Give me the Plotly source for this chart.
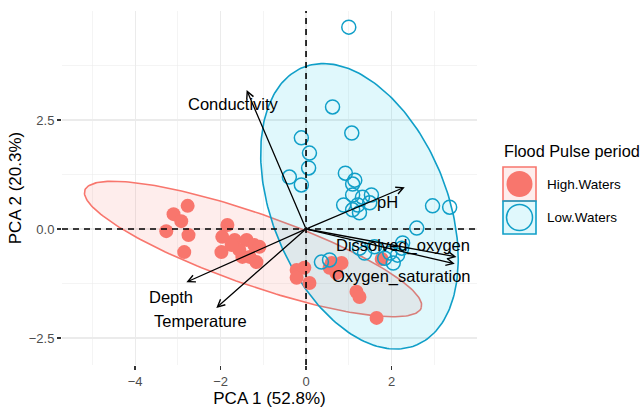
import numpy as np
import plotly.graph_objects as go

# ---------------- data ----------------
groups = ["High.Waters", "Low.Waters"]

high_x = [-2.77, -3.10, -2.92, -3.27, -2.75, -2.85, -1.84, -1.96, -1.98, -1.67,
          -1.49, -1.39, -1.21, -1.32, -1.09, -1.16, -1.56, -1.74, -0.22, -0.04,
          -0.22, 0.08, 0.55, 0.83, 0.71, 1.18, 1.25, 1.77, 1.65, 0.60]
high_y = [0.53, 0.34, 0.18, -0.05, -0.14, -0.53, 0.09, -0.18, -0.53, -0.25,
          -0.64, -0.25, -0.37, -0.64, -0.41, -0.76, -0.48, -0.37, -0.94, -0.89,
          -1.12, -1.24, -0.89, -0.78, -1.01, -1.44, -1.56, -0.69, -2.04, -0.78]

low_x = [1.00, 0.62, 1.07, -0.11, 0.08, 0.06, -0.39, -0.11, 0.92, 1.14, 1.09,
         1.09, 1.32, 1.53, 1.21, 1.09, 1.25, 1.49, 0.88, 2.96, 3.36, 2.59, 1.96,
         2.14, 2.24, 1.84, 0.55, 0.36, 1.60, 1.37, 1.25, 2.04, 2.26]
low_y = [4.63, 2.80, 2.20, 2.09, 1.74, 1.40, 1.19, 1.01, 1.28, 1.12, 1.03,
         0.78, 0.73, 0.78, 0.55, 0.44, 0.37, 0.60, 0.55, 0.53, 0.50, 0.02, -0.55,
         -0.60, -0.44, -0.67, -0.71, -0.76, -0.41, -0.55, -0.44, -0.78, -0.32]

# confidence ellipses: centre, semi-axes, rotation (degrees)
ell_cx = [-1.24, 1.25]
ell_cy = [-0.46, 0.52]
ell_a = [4.16, 3.45]
ell_b = [0.82, 2.04]
ell_angle = [-18.9, -67.0]

# variable loadings (arrow tips) and label positions
var_names = ["Conductivity", "pH", "Dissolved_oxygen", "Oxygen_saturation",
             "Depth", "Temperature"]
load_x = [-1.39, 2.31, 3.52, 3.48, -2.80, -2.10]
load_y = [3.19, 0.96, -0.64, -0.80, -1.22, -1.81]
label_x = [-1.70, 1.91, 2.27, 2.24, -3.15, -2.47]
label_y = [2.87, 0.62, -0.37, -1.10, -1.56, -2.11]

x_ticks = [-4, -2, 0, 2]
y_ticks = [-2.5, 0.0, 2.5]
y_tick_text = ["\u22122.5", "0.0", "2.5"]

# ---------------- styling ----------------
RED = "#F8766D"
BLUE = "#109FC8"
RED_FILL = "rgba(248,118,109,0.13)"
BLUE_FILL = "rgba(0,200,230,0.12)"
FONT = "Liberation Sans, Arial, sans-serif"

W, H = 642, 408
L, R, T, B = 62, 165, 11, 43
x_range = [-5.71, 4.0]
y_range = [-3.12, 5.0]


def ellipse(cx, cy, a, b, ang, n=240):
    t = np.linspace(0, 2 * np.pi, n)
    th = np.deg2rad(ang)
    x = cx + a * np.cos(t) * np.cos(th) - b * np.sin(t) * np.sin(th)
    y = cy + a * np.cos(t) * np.sin(th) + b * np.sin(t) * np.cos(th)
    return x, y


fig = go.Figure()

line_cols = [RED, BLUE]
fill_cols = [RED_FILL, BLUE_FILL]
for i, g in enumerate(groups):
    ex, ey = ellipse(ell_cx[i], ell_cy[i], ell_a[i], ell_b[i], ell_angle[i])
    fig.add_trace(go.Scatter(x=ex, y=ey, mode="lines", fill="toself",
                             fillcolor=fill_cols[i],
                             line=dict(color=line_cols[i], width=1.6),
                             hoverinfo="skip", showlegend=False))

fig.add_trace(go.Scatter(x=high_x, y=high_y, mode="markers", name=groups[0],
                         marker=dict(symbol="circle", size=14, color=RED,
                                     line=dict(width=0)),
                         showlegend=False))
fig.add_trace(go.Scatter(x=low_x, y=low_y, mode="markers", name=groups[1],
                         marker=dict(symbol="circle-open", size=14, color=BLUE,
                                     line=dict(width=1.5)),
                         showlegend=False))

# zero reference lines
fig.add_shape(type="line", xref="x", yref="paper", x0=0, x1=0, y0=0, y1=1,
              line=dict(color="black", width=1.6, dash="6px,5px"), layer="above")
fig.add_shape(type="line", xref="paper", yref="y", x0=0, x1=1, y0=0, y1=0,
              line=dict(color="black", width=1.6, dash="6px,5px"), layer="above")

# loading arrows + labels
for n, lx, ly, tx, ty in zip(var_names, load_x, load_y, label_x, label_y):
    fig.add_annotation(x=lx, y=ly, ax=0, ay=0, xref="x", yref="y",
                       axref="x", ayref="y", text="", showarrow=True,
                       arrowhead=5, arrowsize=1.1, arrowwidth=1.3,
                       arrowcolor="black", standoff=0, startstandoff=0)
    fig.add_annotation(x=tx, y=ty, xref="x", yref="y", text=n, showarrow=False,
                       font=dict(family=FONT, size=16.5, color="black"),
                       xanchor="center", yanchor="middle")

# ---------------- legend drawn to match ggplot key boxes ----------------
pw = W - L - R
ph = H - T - B


def px(xp):
    return (xp - L) / pw


def py(yp):
    return (H - B - yp) / ph


fig.add_annotation(x=px(502), y=py(151), xref="paper", yref="paper",
                   text="Flood Pulse period", showarrow=False,
                   xanchor="left", yanchor="middle",
                   font=dict(family=FONT, size=16.3, color="black"))
keys = [(167, 201), (201, 234)]
for i, g in enumerate(groups):
    y0, y1 = keys[i]
    fig.add_shape(type="rect", xref="paper", yref="paper",
                  x0=px(503), x1=px(536), y0=py(y1), y1=py(y0),
                  fillcolor=fill_cols[i], line=dict(color=line_cols[i], width=1.6),
                  layer="above")
    cy = (y0 + y1) / 2
    if i == 0:
        fig.add_shape(type="circle", xref="paper", yref="paper",
                      x0=px(506.5), x1=px(532.5), y0=py(cy + 13), y1=py(cy - 13),
                      fillcolor=RED, line=dict(width=0), layer="above")
    else:
        fig.add_shape(type="circle", xref="paper", yref="paper",
                      x0=px(506.5), x1=px(532.5), y0=py(cy + 13), y1=py(cy - 13),
                      fillcolor="rgba(0,0,0,0)", line=dict(color=BLUE, width=1.5),
                      layer="above")
    fig.add_annotation(x=px(545), y=py(cy), xref="paper", yref="paper",
                       text=g, showarrow=False, xanchor="left", yanchor="middle",
                       font=dict(family=FONT, size=13.5, color="black"))

grid = "#EBEBEB"
fig.update_layout(
    width=W, height=H,
    margin=dict(l=L, r=R, t=T, b=B, pad=0, autoexpand=False),
    plot_bgcolor="white", paper_bgcolor="white",
    font=dict(family=FONT, color="black"),
    showlegend=False,
    hovermode=False,
    xaxis=dict(range=x_range, tickvals=x_ticks,
               ticktext=[str(v).replace("-", "\u2212") for v in x_ticks],
               showgrid=True, gridcolor=grid, gridwidth=1.1, zeroline=False,
               ticks="outside", ticklen=4, tickwidth=1.2, tickcolor="#333333",
               tickfont=dict(family=FONT, size=13, color="#4D4D4D"),
               minor=dict(dtick=1, tick0=0, showgrid=True, gridcolor=grid,
                          gridwidth=0.55, ticks=""),
               title=dict(text="PCA 1 (52.8%)", font=dict(family=FONT, size=17),
                          standoff=4),
               showline=False),
    yaxis=dict(range=y_range, tickvals=y_ticks, ticktext=y_tick_text,
               showgrid=True, gridcolor=grid, gridwidth=1.1, zeroline=False,
               ticks="outside", ticklen=4, tickwidth=1.2, tickcolor="#333333",
               tickfont=dict(family=FONT, size=13, color="#4D4D4D"),
               minor=dict(dtick=1.25, tick0=0, showgrid=True, gridcolor=grid,
                          gridwidth=0.55, ticks=""),
               title=dict(text="PCA 2 (20.3%)", font=dict(family=FONT, size=17),
                          standoff=2),
               showline=False),
)

# remove the default page margin so the figure fills the 642x408 window
fig.write_html("out.html",
               config={"displayModeBar": False, "staticPlot": True},
               post_script="document.body.style.margin='0';"
                           "document.documentElement.style.overflow='hidden';")
